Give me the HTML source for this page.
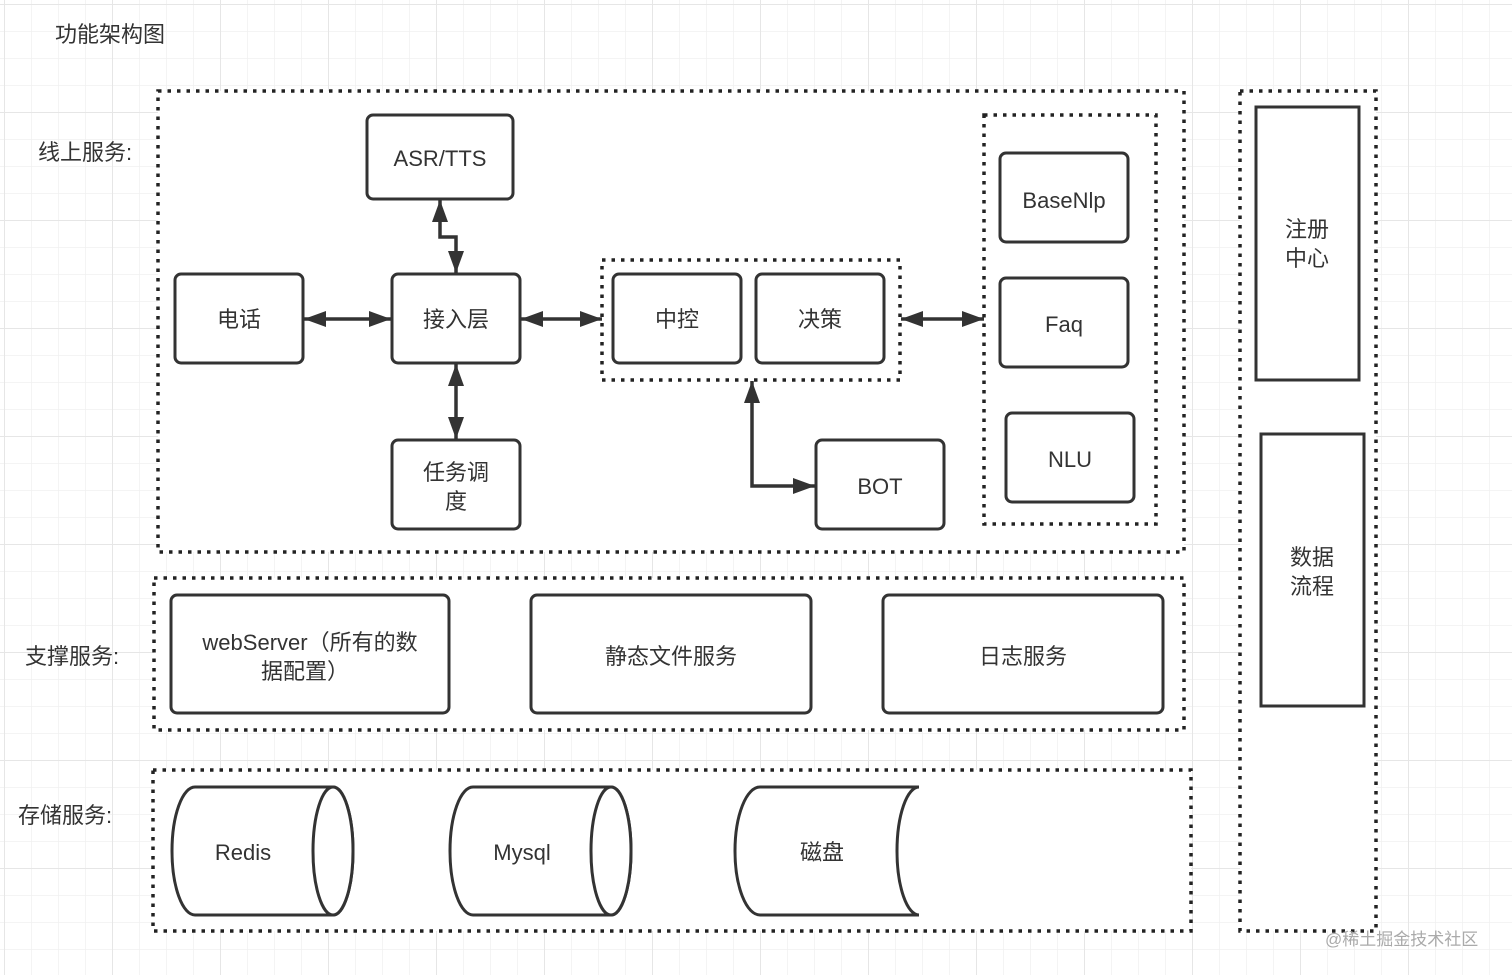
<!DOCTYPE html>
<html><head><meta charset="utf-8"><style>
html,body{margin:0;padding:0;background:#fff}
svg{display:block}
text{font-family:"Liberation Sans","Noto Sans CJK SC",sans-serif;fill:#333;font-size:22px}
</style></head><body>
<svg width="1512" height="975" viewBox="0 0 1512 975" xmlns="http://www.w3.org/2000/svg">
<defs>
<pattern id="g" width="27" height="27" patternUnits="userSpaceOnUse" x="5" y="5">
<path d="M27 0V27H0" fill="none" stroke="#f0f0f0" stroke-width="1.5"/>
</pattern>
<pattern id="G" width="108" height="108" patternUnits="userSpaceOnUse" x="5" y="5">
<path d="M108 0V108H0" fill="none" stroke="#e6e6e6" stroke-width="2"/>
</pattern>
<marker id="a" markerWidth="22" markerHeight="16" refX="22" refY="8" orient="auto-start-reverse" markerUnits="userSpaceOnUse" viewBox="0 0 22 16">
<path d="M0 0L22 8L0 16Z" fill="#333"/>
</marker>
</defs>
<rect width="1512" height="975" fill="url(#g)"/>
<rect width="1512" height="975" fill="url(#G)"/>
<g fill="none" stroke="#222" stroke-width="3.5" stroke-dasharray="3.5 6">
<rect x="158" y="91" width="1026" height="461" fill="#fff"/>
<rect x="154" y="578" width="1030" height="152" fill="#fff"/>
<rect x="153" y="770" width="1038" height="161" fill="#fff"/>
<rect x="1240" y="91" width="136" height="840" fill="#fff"/>
<rect x="602" y="260" width="298" height="120"/>
<rect x="984" y="115" width="172" height="409"/>
</g>
<g fill="#fff" stroke="#333" stroke-width="3">
<rect x="367" y="115" width="146" height="84" rx="6"/>
<rect x="175" y="274" width="128" height="89" rx="6"/>
<rect x="392" y="274" width="128" height="89" rx="6"/>
<rect x="392" y="440" width="128" height="89" rx="6"/>
<rect x="613" y="274" width="128" height="89" rx="6"/>
<rect x="756" y="274" width="128" height="89" rx="6"/>
<rect x="816" y="440" width="128" height="89" rx="6"/>
<rect x="1000" y="153" width="128" height="89" rx="6"/>
<rect x="1000" y="278" width="128" height="89" rx="6"/>
<rect x="1006" y="413" width="128" height="89" rx="6"/>
<rect x="171" y="595" width="278" height="118" rx="6"/>
<rect x="531" y="595" width="280" height="118" rx="6"/>
<rect x="883" y="595" width="280" height="118" rx="6"/>
<rect x="1256" y="107" width="103" height="273"/>
<rect x="1261" y="434" width="103" height="272"/>
<path d="M195 787H333A20 64 0 0 1 333 915H195A23 64 0 0 1 195 787Z"/>
<ellipse cx="333" cy="851" rx="20" ry="64"/>
<path d="M473 787H611A20 64 0 0 1 611 915H473A23 64 0 0 1 473 787Z"/>
<ellipse cx="611" cy="851" rx="20" ry="64"/>
<path d="M760 787H919A22 64 0 0 0 919 915H760A25 64 0 0 1 760 787Z"/>
</g>
<g fill="none" stroke="#333" stroke-width="3.5">
<path d="M304 319H391" marker-start="url(#a)" marker-end="url(#a)"/>
<path d="M521 319H602" marker-start="url(#a)" marker-end="url(#a)"/>
<path d="M901 319H984" marker-start="url(#a)" marker-end="url(#a)"/>
<path d="M440 200V237H456V273" marker-start="url(#a)" marker-end="url(#a)"/>
<path d="M456 364V439" marker-start="url(#a)" marker-end="url(#a)"/>
<path d="M752 381V486H815" marker-start="url(#a)" marker-end="url(#a)"/>
</g>
<g text-anchor="middle">
<text x="440" y="166">ASR/TTS</text>
<text x="239" y="327">电话</text>
<text x="456" y="327">接入层</text>
<text x="456" y="480">任务调</text>
<text x="456" y="509">度</text>
<text x="677" y="327">中控</text>
<text x="820" y="327">决策</text>
<text x="880" y="494">BOT</text>
<text x="1064" y="208">BaseNlp</text>
<text x="1064" y="332">Faq</text>
<text x="1070" y="467">NLU</text>
<text x="310" y="650">webServer（所有的数</text>
<text x="305" y="679">据配置）</text>
<text x="671" y="664">静态文件服务</text>
<text x="1023" y="664">日志服务</text>
<text x="1307" y="237">注册</text>
<text x="1307" y="266">中心</text>
<text x="1312" y="565">数据</text>
<text x="1312" y="594">流程</text>
<text x="243" y="860">Redis</text>
<text x="522" y="860">Mysql</text>
<text x="822" y="860">磁盘</text>
</g>
<text x="55" y="42">功能架构图</text>
<text x="38" y="160">线上服务:</text>
<text x="25" y="664">支撑服务:</text>
<text x="18" y="823">存储服务:</text>
<text x="1325" y="945" style="font-size:17px;fill:#aaa">@稀土掘金技术社区</text>
</svg>
</body></html>
